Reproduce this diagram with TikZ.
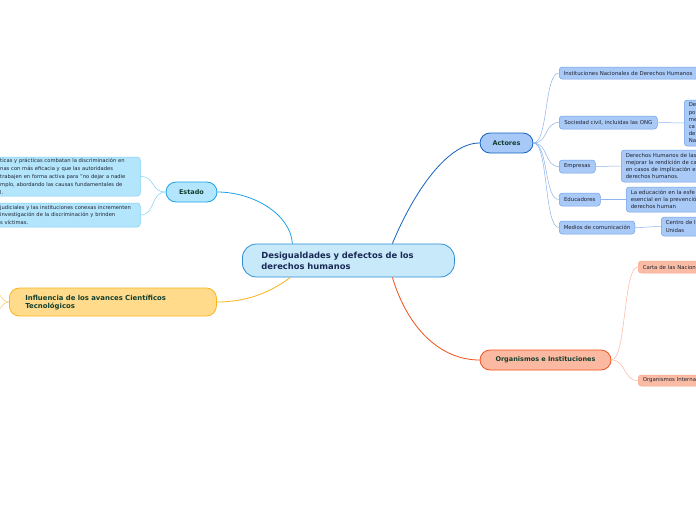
\documentclass[tikz,border=0pt]{standalone}
\usepackage{fontspec}
\setmainfont{DejaVu Sans}
\definecolor{cFill}{HTML}{C7E9FA}
\definecolor{cLine}{HTML}{2D8FD5}
\definecolor{cText}{HTML}{1B2A55}
\definecolor{gText}{HTML}{123F2E}
\definecolor{leafText}{HTML}{1F2430}
\definecolor{eFill}{HTML}{B3E5FC}
\definecolor{eLine}{HTML}{1AA3E6}
\definecolor{eLeafLine}{HTML}{7FD0F5}
\definecolor{aFill}{HTML}{A7C9F7}
\definecolor{aLine}{HTML}{1462C0}
\definecolor{aLeafFill}{HTML}{A9C9F7}
\definecolor{aLeafLine}{HTML}{6FA2EA}
\definecolor{aConn}{HTML}{8DB5EE}
\definecolor{iFill}{HTML}{FFDB8B}
\definecolor{iLine}{HTML}{F9B41A}
\definecolor{iConn}{HTML}{FBC867}
\definecolor{oFill}{HTML}{FBB9A2}
\definecolor{oLine}{HTML}{F2511B}
\definecolor{oLeafFill}{HTML}{FBBCA6}
\definecolor{oLeafLine}{HTML}{F7A58B}
\definecolor{oConn}{HTML}{F9B6A0}
\begin{document}
\begin{tikzpicture}[x=1pt,y=-1pt,
  central/.style={rectangle, draw=cLine, fill=cFill, rounded corners=14pt, line width=0.8pt,
    anchor=west, align=left, inner xsep=19pt, inner ysep=1pt, text width=174pt, minimum height=33pt,
    font=\bfseries\fontsize{8.4}{11}\selectfont, text=cText},
  mainbr/.style={rectangle, draw, rounded corners=10pt, line width=0.8pt, minimum height=20pt,
    inner ysep=1pt, font=\bfseries\fontsize{6.5}{8}\selectfont, text=gText, align=center},
  leaf/.style={rectangle, draw, rounded corners=3pt, line width=0.5pt, anchor=west, inner xsep=4.5pt,
    inner ysep=1pt, font=\fontsize{5.4}{7.2}\selectfont, text=leafText},
  eleaf/.style={leaf, fill=eFill, draw=eLeafLine, align=left, inner xsep=5pt, font=\fontsize{5.2}{7.8}\selectfont},
  aleaf/.style={leaf, fill=aLeafFill, draw=aLeafLine},
  oleaf/.style={leaf, fill=oLeafFill, draw=oLeafLine},
  conn/.style={line width=0.5pt}
]
\clip (0,0) rectangle (696,520);
\fill[white] (0,0) rectangle (696,520);

% central
\node[central] (central) at (242,260.5) {Desigualdades y defectos de los\\derechos humanos};

% main branches
\node[mainbr, fill=eFill, draw=eLine, minimum width=51pt] (estado) at (191.5,192) {Estado};
\node[mainbr, fill=aFill, draw=aLine, minimum width=53pt] (actores) at (506.5,143) {Actores};
\node[mainbr, fill=oFill, draw=oLine, minimum width=131pt] (org) at (545.5,360) {Organismos e Instituciones};
\node[mainbr, fill=iFill, draw=iLine, anchor=west, align=left, inner xsep=16pt, text width=175pt,
      minimum height=28pt, font=\bfseries\fontsize{6.9}{8}\selectfont] (influ) at (9,302) {Influencia de los avances Científicos\\Tecnológicos};

% Estado leaves
\node[eleaf, text width=135pt, minimum height=39pt] (e1) at (-5,176.5)
  {ticas y prácticas combatan la discriminación en\\nas con más eficacia y que las autoridades\\trabajen en forma activa para "no dejar a nadie\\mplo, abordando las causas fundamentales de\\l.};
\node[eleaf, text width=135pt, minimum height=24pt] (e2) at (-5,215)
  {judiciales y las instituciones conexas incrementen\\investigación de la discriminación y brinden\\s víctimas.};

% Actores leaves
\node[aleaf, align=left, text width=140pt, minimum height=12pt] (a1) at (559,73) {Instituciones Nacionales de Derechos Humanos};
\node[aleaf, minimum width=98pt, minimum height=13pt] (a2) at (559,122.5) {Sociedad civil, incluidas las ONG};
\node[aleaf, minimum width=36pt, minimum height=13pt] (a3) at (559,166.5) {Empresas};
\node[aleaf, minimum width=41pt, minimum height=13pt] (a4) at (559,199.5) {Educadores};
\node[aleaf, minimum width=75pt, minimum height=13pt] (a5) at (559,227.5) {Medios de comunicación};

% Actores grandchildren
\node[aleaf, align=left, text width=100pt, minimum height=46pt] (g2) at (684,123) {De\\po\\me\\ca\\de\\Na};
\node[aleaf, align=left, text width=100pt, minimum height=32pt] (g3) at (621,166) {Derechos Humanos de las\\mejorar la rendición de ca\\en casos de implicación e\\derechos humanos.};
\node[aleaf, align=left, text width=100pt, minimum height=25pt] (g4) at (626,199.5) {La educación en la esfe\\esencial en la prevenció\\derechos human};
\node[aleaf, align=left, text width=100pt, minimum height=19pt] (g5) at (661,226.5) {Centro de I\\Unidas};

% Organismos leaves
\node[oleaf, align=left, text width=100pt, minimum height=12pt] (o1) at (638,267) {Carta de las Nacion};
\node[oleaf, align=left, text width=100pt, minimum height=11pt] (o2) at (638,380.5) {Organismos Interna};

% off-canvas ends for Influencia
\coordinate (iu) at (-8,290);
\coordinate (id) at (-8,314);

% main connectors
\draw[line width=0.8pt, eLine] ([xshift=-56pt]central.north) .. controls +(-2,-30) and +(35,0) .. (estado.east);
\draw[line width=0.8pt, aLine] ([xshift=44pt]central.north) .. controls +(18,-44) and +(-35,0) .. (actores.west);
\draw[line width=0.8pt, iLine] ([xshift=-58pt]central.south) .. controls +(-20,15) and +(30,0) .. (influ.east);
\draw[line width=0.8pt, oLine] ([xshift=44pt]central.south) .. controls +(15,50) and +(-40,0) .. (org.west);

% leaf connectors
\foreach \c in {e1,e2}
  \draw[conn, eLeafLine] (estado.west) .. controls +(-15,0) and +(15,0) .. (\c.east);
\foreach \c in {a1,a2,a3,a4,a5}
  \draw[conn, aConn] (actores.east) .. controls +(15,0) and +(-15,0) .. (\c.west);
\draw[conn, aConn] (a2.east) .. controls +(12,0) and +(-12,0) .. (g2.west);
\draw[conn, aConn] (a3.east) .. controls +(12,0) and +(-12,0) .. (g3.west);
\draw[conn, aConn] (a4.east) .. controls +(12,0) and +(-12,0) .. (g4.west);
\draw[conn, aConn] (a5.east) .. controls +(12,0) and +(-12,0) .. (g5.west);
\foreach \c in {o1,o2}
  \draw[conn, oConn] (org.east) .. controls +(15,0) and +(-15,0) .. (\c.west);
\foreach \c in {iu,id}
  \draw[conn, iConn] (influ.west) .. controls +(-8,0) and +(8,0) .. (\c);
\end{tikzpicture}
\end{document}
